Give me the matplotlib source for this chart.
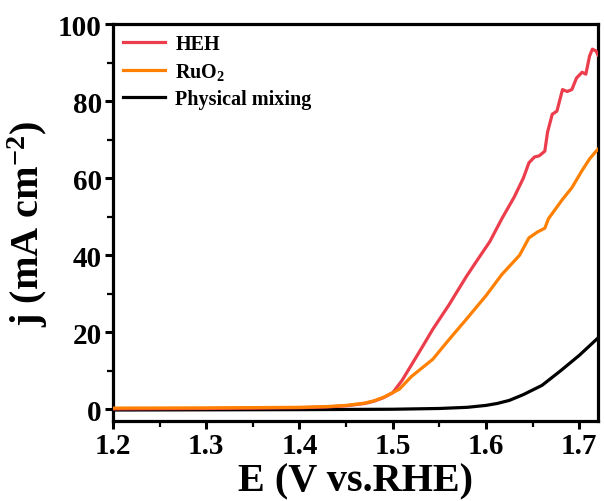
import matplotlib
matplotlib.use("Agg")
import matplotlib.pyplot as plt
from matplotlib.ticker import MultipleLocator

# ---- data ----
heh_E = [1.20, 1.30, 1.40, 1.43, 1.45, 1.47, 1.48, 1.49, 1.50, 1.51, 1.52, 1.53,
         1.543, 1.56, 1.579, 1.59, 1.604, 1.617, 1.63, 1.64, 1.646, 1.652, 1.657,
         1.663, 1.666, 1.671, 1.676, 1.682, 1.687, 1.692, 1.697, 1.703, 1.707,
         1.711, 1.714, 1.718, 1.72]
heh_j = [0.1, 0.2, 0.4, 0.6, 0.9, 1.5, 2.1, 3.0, 4.3, 7.5, 11.5, 15.5,
         20.8, 27.0, 34.5, 38.5, 43.5, 49.5, 55.0, 60.0, 64.0, 65.5, 65.8,
         67.0, 72.0, 76.6, 77.4, 83.0, 82.5, 83.0, 86.0, 87.5, 87.0,
         91.7, 93.5, 93.0, 92.0]

ruo2_E = [1.20, 1.30, 1.40, 1.43, 1.45, 1.47, 1.48, 1.49, 1.50, 1.507, 1.52,
          1.543, 1.56, 1.579, 1.60, 1.617, 1.636, 1.646, 1.655, 1.663, 1.667,
          1.673, 1.682, 1.692, 1.703, 1.711, 1.718, 1.72]
ruo2_j = [0.3, 0.35, 0.5, 0.7, 1.0, 1.6, 2.2, 3.1, 4.3, 5.2, 8.5,
          13.0, 18.0, 23.4, 29.5, 35.0, 40.0, 44.5, 46.0, 47.0, 49.5,
          51.5, 54.5, 57.5, 62.0, 65.0, 67.0, 67.5]

mix_E = [1.20, 1.40, 1.50, 1.55, 1.58, 1.60, 1.612, 1.625, 1.64, 1.66, 1.68, 1.70, 1.72]
mix_j = [-0.2, -0.1, 0.0, 0.2, 0.5, 1.0, 1.5, 2.3, 3.8, 6.2, 10.0, 14.0, 18.5]

labels = ["HEH", "RuO$_2$", "Physical mixing"]
colors = ["#EC3D4C", "#FF8000", "#000000"]

xticks = [1.2, 1.3, 1.4, 1.5, 1.6, 1.7]
yticks = [0, 20, 40, 60, 80, 100]

plt.rcParams['font.family'] = ['Liberation Serif', 'DejaVu Serif']
plt.rcParams['font.weight'] = 'bold'
plt.rcParams['mathtext.fontset'] = 'custom'
plt.rcParams['mathtext.rm'] = 'Liberation Serif:bold'
plt.rcParams['mathtext.it'] = 'Liberation Serif:bold'
plt.rcParams['mathtext.bf'] = 'Liberation Serif:bold'

fig = plt.figure(figsize=(6.04, 5.02), dpi=100)
ax = fig.add_axes([0.187, 0.159, 0.803, 0.791])

ax.plot(mix_E, mix_j, color=colors[2], lw=2.3, label=labels[2], zorder=2)
ax.plot(heh_E, heh_j, color=colors[0], lw=2.3, label=labels[0], zorder=3)
ax.plot(ruo2_E, ruo2_j, color=colors[1], lw=2.3, label=labels[1], zorder=4)

ax.set_xlim(1.2, 1.72)
ax.set_ylim(-3.1, 100)
ax.set_xticks(xticks)
ax.set_yticks(yticks)
ax.xaxis.set_minor_locator(MultipleLocator(0.05))
ax.yaxis.set_minor_locator(MultipleLocator(10))
ax.set_xticklabels([f"{v:.1f}" for v in xticks])
ax.set_yticklabels([str(v) for v in yticks])

for s in ax.spines.values():
    s.set_linewidth(2.3)
ax.tick_params(which='major', direction='out', length=6, width=2.2, labelsize=21, pad=2)
ax.tick_params(which='minor', direction='out', length=4, width=1.6)

ax.set_xlabel("E (V vs.RHE)", fontsize=29, fontweight='bold', labelpad=2)
ax.set_ylabel("j (mA cm$^{-2}$)", fontsize=29, fontweight='bold', labelpad=6)

handles, labs = ax.get_legend_handles_labels()
order = [1, 2, 0]
leg = ax.legend([handles[i] for i in order], [labs[i] for i in order],
                loc='upper left', bbox_to_anchor=(0.0, 1.0), frameon=False,
                fontsize=14.5, handlelength=2.1, handletextpad=0.5,
                labelspacing=0.35, borderaxespad=0.3, borderpad=0.2)
for t in leg.get_texts():
    t.set_fontweight('bold')

fig.savefig("out.png", dpi=100)
